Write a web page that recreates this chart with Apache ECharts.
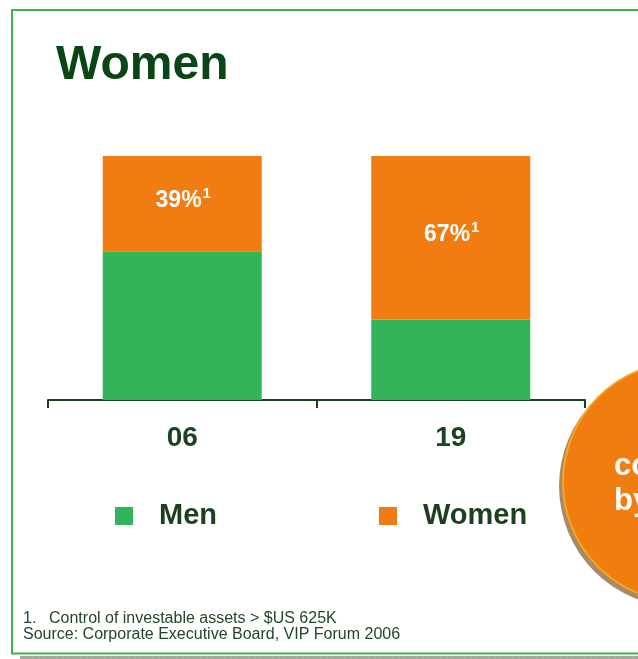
<!DOCTYPE html>
<html>
<head>
<meta charset="utf-8">
<script src="https://cdn.jsdelivr.net/npm/echarts@6/dist/echarts.min.js"></script>
<style>
  html, body { margin: 0; padding: 0; background: #ffffff; }
  #chart { width: 638px; height: 659px; }
</style>
</head>
<body>
<div id="chart"></div>
<script>
// Share of investable assets controlled, by year (percent)
const categories = ['06', '19'];
const menShare = [61, 33];
const womenShare = [39, 67];
const seriesNames = ['Men', 'Women'];
const footnoteMark = '1';

const titleText = 'Women';
const footnoteNumber = '1.';
const footnoteText = 'Control of investable assets > $US 625K';
const sourceText = 'Source: Corporate Executive Board, VIP Forum 2006';
const calloutLines = ['co', 'by'];

const GREEN = '#32b45a';
const ORANGE = '#f07c12';
const DARK = '#1b4322';
const FONT = '"Liberation Sans", Arial, sans-serif';

const chart = echarts.init(document.getElementById('chart'), null, { renderer: 'canvas' });

const legendText = {
  fontFamily: FONT, fontSize: 29, fontWeight: 'bold', color: '#1c3f20',
  lineHeight: 30, padding: [0, 0, 0, 21]
};

chart.setOption({
  animation: false,
  backgroundColor: '#ffffff',
  grid: { left: 48, right: 53, top: 156, bottom: 259, containLabel: false },
  xAxis: {
    type: 'category',
    data: categories,
    boundaryGap: true,
    axisLine: { show: true, lineStyle: { color: '#1f3f22', width: 2 } },
    axisTick: { show: true, length: 8, alignWithLabel: false, lineStyle: { color: '#1f3f22', width: 2 } },
    axisLabel: {
      margin: 24, fontFamily: FONT, fontSize: 28, fontWeight: 'bold',
      color: DARK, lineHeight: 28
    },
    splitLine: { show: false }
  },
  yAxis: { type: 'value', min: 0, max: 100, show: false },
  legend: [
    {
      data: [seriesNames[0]], left: 115, top: 501, padding: 0, itemWidth: 18, itemHeight: 18,
      icon: 'rect', selectedMode: false, textStyle: legendText
    },
    {
      data: [seriesNames[1]], left: 379, top: 501, padding: 0, itemWidth: 18, itemHeight: 18,
      icon: 'rect', selectedMode: false, textStyle: legendText
    }
  ],
  series: [
    {
      name: seriesNames[0],
      type: 'bar',
      stack: 'share',
      data: menShare,
      barWidth: 159,
      itemStyle: { color: GREEN },
      label: { show: false }
    },
    {
      name: seriesNames[1],
      type: 'bar',
      stack: 'share',
      data: womenShare,
      barWidth: 159,
      itemStyle: { color: ORANGE },
      label: {
        show: true,
        position: 'inside',
        offset: [1, -3],
        formatter: (p) => '{v|' + p.value + '%}{s|' + footnoteMark + '}',
        rich: {
          v: { fontFamily: FONT, fontSize: 23, fontWeight: 'bold', color: '#ffffff', lineHeight: 26 },
          s: { fontFamily: FONT, fontSize: 15, fontWeight: 'bold', color: '#ffffff',
               lineHeight: 15, padding: [0, 0, 14, 1] }
        }
      }
    }
  ],
  graphic: [
    // slide frame
    { type: 'line', shape: { x1: 12, y1: 10, x2: 638, y2: 10 }, style: { stroke: '#3db54f', lineWidth: 2 }, silent: true },
    { type: 'line', shape: { x1: 12, y1: 9, x2: 12, y2: 654 }, style: { stroke: '#3db54f', lineWidth: 2 }, silent: true },
    { type: 'line', shape: { x1: 11, y1: 653.5, x2: 638, y2: 653.5 }, style: { stroke: '#3db54f', lineWidth: 2 }, silent: true },
    { type: 'rect', shape: { x: 20, y: 656, width: 618, height: 3 }, style: { fill: '#a2ab9b' }, silent: true },
    { type: 'line', shape: { x1: 20, y1: 657.5, x2: 638, y2: 657.5 }, style: { stroke: '#c6cdc0', lineWidth: 1, lineDash: [1, 5] }, silent: true },
    // title
    {
      type: 'text', x: 56, y: 66, silent: true,
      style: { text: titleText, fontFamily: FONT, fontSize: 48, fontWeight: 'bold', fill: '#0a4516', verticalAlign: 'middle' }
    },
    // callout disc
    { type: 'circle', shape: { cx: 680, cy: 486, r: 121 }, style: { fill: '#a88b64' }, silent: true, z: 10 },
    { type: 'circle', shape: { cx: 683, cy: 482, r: 120 }, style: { fill: '#f07d0f', stroke: '#f6a623', lineWidth: 2 }, silent: true, z: 11 },
    {
      type: 'text', x: 614, y: 466, z: 12, silent: true,
      style: { text: calloutLines[0], fontFamily: FONT, fontSize: 31, fontWeight: 'bold', fill: '#ffffff', verticalAlign: 'middle', align: 'left' }
    },
    {
      type: 'text', x: 614, y: 501, z: 12, silent: true,
      style: { text: calloutLines[1], fontFamily: FONT, fontSize: 31, fontWeight: 'bold', fill: '#ffffff', verticalAlign: 'middle', align: 'left' }
    },
    // footnotes
    {
      type: 'text', x: 23, y: 618.5, silent: true,
      style: { text: footnoteNumber, fontFamily: FONT, fontSize: 16, fill: '#23452a', verticalAlign: 'middle' }
    },
    {
      type: 'text', x: 49, y: 618.5, silent: true,
      style: { text: footnoteText, fontFamily: FONT, fontSize: 16, fill: '#23452a', verticalAlign: 'middle' }
    },
    {
      type: 'text', x: 23, y: 635, silent: true,
      style: { text: sourceText, fontFamily: FONT, fontSize: 16, fill: '#23452a', verticalAlign: 'middle' }
    }
  ]
});
</script>
</body>
</html>
